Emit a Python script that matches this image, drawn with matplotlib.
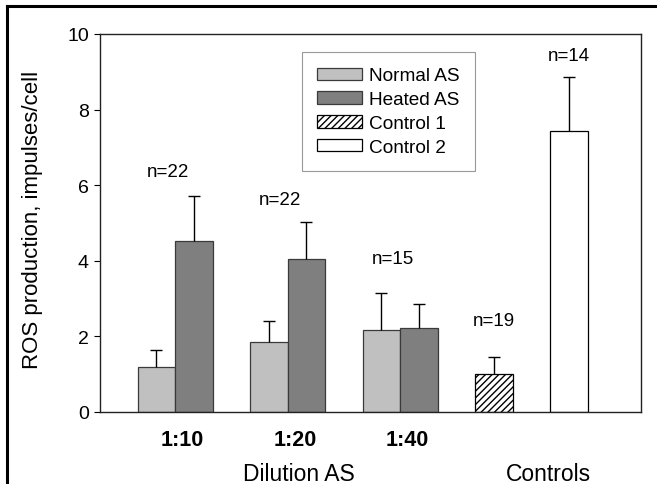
import numpy as np
import matplotlib
matplotlib.use("Agg")
import matplotlib.pyplot as plt
from matplotlib.lines import Line2D

plt.rcParams['font.family'] = ['Liberation Sans', 'DejaVu Sans']

# --- data ---
dilutions = ["1:10", "1:20", "1:40"]
normal_as = [1.18, 1.84, 2.18]
normal_err = [0.46, 0.58, 0.97]
heated_as = [4.53, 4.05, 2.23]
heated_err = [1.19, 0.97, 0.62]
controls = ["Control 1", "Control 2"]
control_vals = [1.01, 7.44]
control_err = [0.45, 1.41]
group_n = ["n=22", "n=22", "n=15"]
control_n = ["n=19", "n=14"]

# layout (bar units)
group_x = np.array([2.0, 5.0, 8.0])
control_x = np.array([10.5, 12.5])
width = 1.0
group_label_y = [6.35, 5.61, 4.07]
control_label_y = [2.41, 9.43]

fig = plt.figure(figsize=(6.57, 4.85), dpi=100)
ax = fig.add_axes([100 / 657, 72 / 485, 541 / 657, 378 / 485])

edge = "#3a3a3a"


def upper_err(x, y, err):
    # only the upper whisker, no cap on top of the bar
    eb = ax.errorbar(x, y, yerr=[np.zeros(len(y)), err], fmt="none", ecolor="black",
                     capsize=4.2, elinewidth=1.0, capthick=1.0, zorder=3)
    eb.lines[1][0].set_visible(False)


ax.bar(group_x - width / 2, normal_as, width, color="#c0c0c0", edgecolor=edge,
       linewidth=0.9, label="Normal AS", zorder=2)
ax.bar(group_x + width / 2, heated_as, width, color="#7f7f7f", edgecolor=edge,
       linewidth=0.9, label="Heated AS", zorder=2)
ax.bar(control_x[0], control_vals[0], width, color="white", edgecolor="black",
       hatch="/////", linewidth=0.9, label=controls[0], zorder=2)
ax.bar(control_x[1], control_vals[1], width, color="white", edgecolor="black",
       linewidth=0.9, label=controls[1], zorder=2)
upper_err(group_x - width / 2, normal_as, normal_err)
upper_err(group_x + width / 2, heated_as, heated_err)
upper_err(control_x, control_vals, control_err)

for x, y, t in zip(group_x - 0.2, group_label_y, group_n):
    ax.text(x, y, t, ha="center", va="center", fontsize=13.5)
for x, y, t in zip(control_x, control_label_y, control_n):
    ax.text(x, y, t, ha="center", va="center", fontsize=13.5)

ax.set_xlim(0, 541 / 37.5)
ax.set_ylim(0, 10)
ax.set_yticks(np.arange(0, 11, 2))
ax.tick_params(axis="y", direction="out", length=4, labelsize=14, pad=4)
ax.set_xticks(group_x + 0.2)
ax.set_xticklabels(dilutions, fontsize=15.5, fontweight="bold")
ax.tick_params(axis="x", length=0, pad=12)
for s in ax.spines.values():
    s.set_linewidth(1.0)
    s.set_color("#222222")

ax.set_ylabel("ROS production, impulses/cell", fontsize=16)
ax.yaxis.set_label_coords(-0.105, 0.51)

tr = ax.get_xaxis_transform()
ax.text(5.3, -0.163, "Dilution AS", transform=tr, ha="center", va="center", fontsize=16.5)
ax.text(11.95, -0.163, "Controls", transform=tr, ha="center", va="center", fontsize=16.5)

leg = ax.legend(loc="upper left", bbox_to_anchor=(0.373, 0.952), borderaxespad=0,
                fontsize=13.7, handlelength=2.35, handleheight=0.62, labelspacing=0.36,
                handletextpad=0.4, borderpad=0.8, fancybox=False,
                framealpha=1, edgecolor="#999999")
leg.get_frame().set_linewidth(0.8)

# outer frame, cut at right and bottom like the source
fig.add_artist(Line2D([7 / 657, 7 / 657], [0, 1 - 7 / 485], color="black", lw=2.2))
fig.add_artist(Line2D([7 / 657, 1], [1 - 7 / 485, 1 - 7 / 485], color="black", lw=2.2))

fig.savefig("out.png", dpi=100)
